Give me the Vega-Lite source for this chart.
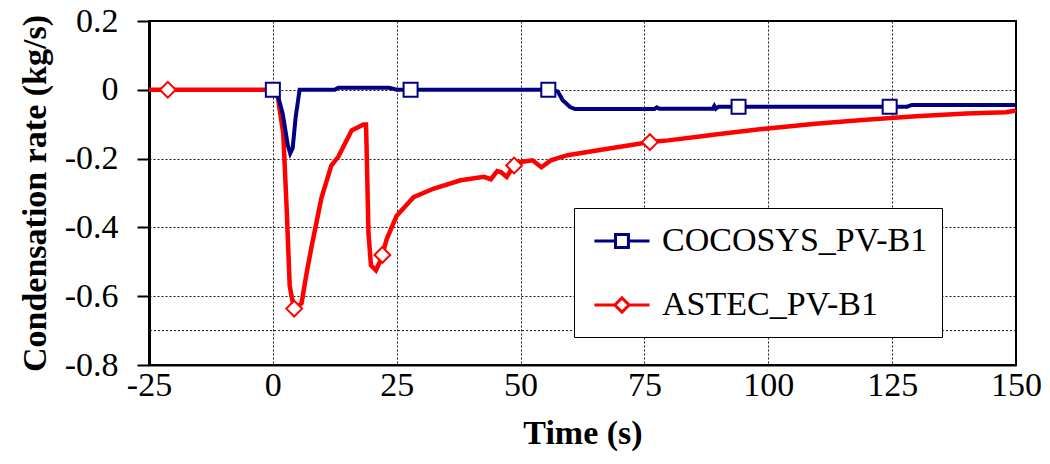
{
  "$schema": "https://vega.github.io/schema/vega-lite/v6.json",
  "width": 867,
  "height": 344,
  "autosize": {"type": "none"},
  "padding": {"left": 149, "top": 21, "right": 34, "bottom": 99},
  "background": "white",
  "config": {
    "font": "Liberation Serif",
    "view": {"stroke": "black", "strokeWidth": 2},
    "axis": {
      "labelFont": "Liberation Serif",
      "labelFontSize": 34,
      "labelColor": "black",
      "titleFont": "Liberation Serif",
      "titleFontSize": 34,
      "titleFontWeight": "bold",
      "titleColor": "black",
      "domainColor": "black",
      "tickColor": "black",
      "gridColor": "black",
      "gridDash": [2, 2],
      "gridWidth": 1,
      "gridOpacity": 0.9
    },
    "legend": {
      "orient": "none",
      "legendX": 425,
      "legendY": 187,
      "title": null,
      "direction": "vertical",
      "fillColor": "white",
      "strokeColor": "black",
      "padding": 14.5,
      "rowPadding": 28,
      "symbolSize": 1156,
      "symbolStrokeWidth": 3,
      "symbolOpacity": 1,
      "labelFont": "Liberation Serif",
      "labelFontSize": 34,
      "labelColor": "black",
      "labelOffset": 36.5,
      "labelLimit": 500,
      "labelBaseline": "middle",
      "labelExpr": "datum.label + '\u00a0\u00a0'"
    }
  },
  "datasets": {
    "astec": [
      {"series": "ASTEC_PV-B1", "t": -25, "v": 0},
      {"series": "ASTEC_PV-B1", "t": 0.8, "v": 0},
      {"series": "ASTEC_PV-B1", "t": 1.4, "v": -0.06},
      {"series": "ASTEC_PV-B1", "t": 2.1, "v": -0.127},
      {"series": "ASTEC_PV-B1", "t": 2.8, "v": -0.35},
      {"series": "ASTEC_PV-B1", "t": 3.4, "v": -0.57},
      {"series": "ASTEC_PV-B1", "t": 4.3, "v": -0.64},
      {"series": "ASTEC_PV-B1", "t": 5.8, "v": -0.62},
      {"series": "ASTEC_PV-B1", "t": 6.8, "v": -0.534},
      {"series": "ASTEC_PV-B1", "t": 7.8, "v": -0.457},
      {"series": "ASTEC_PV-B1", "t": 9.8, "v": -0.315},
      {"series": "ASTEC_PV-B1", "t": 11.8, "v": -0.22},
      {"series": "ASTEC_PV-B1", "t": 13.2, "v": -0.195},
      {"series": "ASTEC_PV-B1", "t": 15.9, "v": -0.118},
      {"series": "ASTEC_PV-B1", "t": 18.3, "v": -0.101},
      {"series": "ASTEC_PV-B1", "t": 18.8, "v": -0.101},
      {"series": "ASTEC_PV-B1", "t": 18.9, "v": -0.157},
      {"series": "ASTEC_PV-B1", "t": 19.3, "v": -0.417},
      {"series": "ASTEC_PV-B1", "t": 19.8, "v": -0.51},
      {"series": "ASTEC_PV-B1", "t": 20.8, "v": -0.525},
      {"series": "ASTEC_PV-B1", "t": 21.6, "v": -0.5},
      {"series": "ASTEC_PV-B1", "t": 22.1, "v": -0.48},
      {"series": "ASTEC_PV-B1", "t": 23, "v": -0.433},
      {"series": "ASTEC_PV-B1", "t": 25, "v": -0.366},
      {"series": "ASTEC_PV-B1", "t": 28.4, "v": -0.312},
      {"series": "ASTEC_PV-B1", "t": 32.5, "v": -0.287},
      {"series": "ASTEC_PV-B1", "t": 37.9, "v": -0.263},
      {"series": "ASTEC_PV-B1", "t": 42.6, "v": -0.253},
      {"series": "ASTEC_PV-B1", "t": 44, "v": -0.26},
      {"series": "ASTEC_PV-B1", "t": 45.3, "v": -0.236},
      {"series": "ASTEC_PV-B1", "t": 46, "v": -0.239},
      {"series": "ASTEC_PV-B1", "t": 47.2, "v": -0.253},
      {"series": "ASTEC_PV-B1", "t": 48.7, "v": -0.22},
      {"series": "ASTEC_PV-B1", "t": 50, "v": -0.21},
      {"series": "ASTEC_PV-B1", "t": 52.4, "v": -0.205},
      {"series": "ASTEC_PV-B1", "t": 54.2, "v": -0.225},
      {"series": "ASTEC_PV-B1", "t": 56.1, "v": -0.205},
      {"series": "ASTEC_PV-B1", "t": 59.5, "v": -0.19},
      {"series": "ASTEC_PV-B1", "t": 66.3, "v": -0.174},
      {"series": "ASTEC_PV-B1", "t": 73, "v": -0.159},
      {"series": "ASTEC_PV-B1", "t": 76.1, "v": -0.152},
      {"series": "ASTEC_PV-B1", "t": 79.8, "v": -0.147},
      {"series": "ASTEC_PV-B1", "t": 86.6, "v": -0.135},
      {"series": "ASTEC_PV-B1", "t": 89.3, "v": -0.13},
      {"series": "ASTEC_PV-B1", "t": 99.4, "v": -0.113},
      {"series": "ASTEC_PV-B1", "t": 109.5, "v": -0.099},
      {"series": "ASTEC_PV-B1", "t": 119.7, "v": -0.087},
      {"series": "ASTEC_PV-B1", "t": 129.8, "v": -0.077},
      {"series": "ASTEC_PV-B1", "t": 140, "v": -0.069},
      {"series": "ASTEC_PV-B1", "t": 148, "v": -0.065},
      {"series": "ASTEC_PV-B1", "t": 150, "v": -0.06}
    ],
    "astecMarkers": [
      {"series": "ASTEC_PV-B1", "t": -21.2, "v": 0},
      {"series": "ASTEC_PV-B1", "t": 4.3, "v": -0.636},
      {"series": "ASTEC_PV-B1", "t": 22.1, "v": -0.48},
      {"series": "ASTEC_PV-B1", "t": 48.7, "v": -0.22},
      {"series": "ASTEC_PV-B1", "t": 76.1, "v": -0.152}
    ],
    "cocosys": [
      {"series": "COCOSYS_PV-B1", "t": 0, "v": 0},
      {"series": "COCOSYS_PV-B1", "t": 0.7, "v": 0},
      {"series": "COCOSYS_PV-B1", "t": 2.0, "v": -0.07},
      {"series": "COCOSYS_PV-B1", "t": 3.0, "v": -0.16},
      {"series": "COCOSYS_PV-B1", "t": 3.5, "v": -0.185},
      {"series": "COCOSYS_PV-B1", "t": 4.0, "v": -0.17},
      {"series": "COCOSYS_PV-B1", "t": 4.6, "v": -0.08},
      {"series": "COCOSYS_PV-B1", "t": 5.4, "v": 0},
      {"series": "COCOSYS_PV-B1", "t": 12.5, "v": 0},
      {"series": "COCOSYS_PV-B1", "t": 13.2, "v": 0.006},
      {"series": "COCOSYS_PV-B1", "t": 23.5, "v": 0.006},
      {"series": "COCOSYS_PV-B1", "t": 25, "v": 0},
      {"series": "COCOSYS_PV-B1", "t": 56, "v": 0},
      {"series": "COCOSYS_PV-B1", "t": 57.5, "v": -0.005},
      {"series": "COCOSYS_PV-B1", "t": 58.5, "v": -0.03},
      {"series": "COCOSYS_PV-B1", "t": 60, "v": -0.05},
      {"series": "COCOSYS_PV-B1", "t": 61, "v": -0.056},
      {"series": "COCOSYS_PV-B1", "t": 77, "v": -0.056},
      {"series": "COCOSYS_PV-B1", "t": 77.5, "v": -0.051},
      {"series": "COCOSYS_PV-B1", "t": 78, "v": -0.055},
      {"series": "COCOSYS_PV-B1", "t": 88.8, "v": -0.055},
      {"series": "COCOSYS_PV-B1", "t": 89.1, "v": -0.047},
      {"series": "COCOSYS_PV-B1", "t": 89.4, "v": -0.055},
      {"series": "COCOSYS_PV-B1", "t": 90, "v": -0.049},
      {"series": "COCOSYS_PV-B1", "t": 128, "v": -0.049},
      {"series": "COCOSYS_PV-B1", "t": 129, "v": -0.044},
      {"series": "COCOSYS_PV-B1", "t": 150, "v": -0.044}
    ],
    "cocosysMarkers": [
      {"series": "COCOSYS_PV-B1", "t": 0, "v": 0},
      {"series": "COCOSYS_PV-B1", "t": 27.8, "v": 0},
      {"series": "COCOSYS_PV-B1", "t": 55.6, "v": 0},
      {"series": "COCOSYS_PV-B1", "t": 94, "v": -0.049},
      {"series": "COCOSYS_PV-B1", "t": 124.5, "v": -0.049}
    ],
    "legendRows": [
      {"series": "COCOSYS_PV-B1", "t": 0, "v": 0},
      {"series": "ASTEC_PV-B1", "t": 0, "v": 0}
    ],
    "extraGrid": [{"v": -0.7}]
  },
  "layer": [
    {
      "data": {"name": "extraGrid"},
      "mark": {"type": "rule", "color": "black", "strokeDash": [2, 2], "strokeWidth": 1, "opacity": 0.9},
      "encoding": {
        "y": {"field": "v", "type": "quantitative", "scale": {"domain": [-0.8, 0.2], "nice": false, "zero": false}}
      }
    },
    {
      "data": {"name": "astec"},
      "mark": {"type": "line", "strokeWidth": 4.5},
      "encoding": {
        "x": {
          "field": "t",
          "type": "quantitative",
          "scale": {"domain": [-25, 150], "nice": false, "zero": false},
          "axis": {
            "title": "Time (s)",
            "values": [-25, 0, 25, 50, 75, 100, 125, 150],
            "labelExpr": "replace(format(datum.value, 'd'), '\u2212', '-')",
            "ticks": false,
            "domainWidth": 2,
            "labelPadding": 3,
            "titlePadding": 14,
            "labelFlush": false,
            "labelOverlap": false
          }
        },
        "y": {
          "field": "v",
          "type": "quantitative",
          "scale": {"domain": [-0.8, 0.2], "nice": false, "zero": false},
          "axis": {
            "title": "Condensation rate (kg/s)",
            "values": [-0.8, -0.6, -0.4, -0.2, 0, 0.2],
            "labelExpr": "replace(format(datum.value, '.1~f'), '\u2212', '-')",
            "tickSize": 12,
            "tickWidth": 2,
            "domainWidth": 3,
            "labelPadding": 19,
            "titlePadding": 12,
            "labelFlush": false,
            "labelOverlap": false
          }
        },
        "color": {"field": "series", "type": "nominal", "scale": {"domain": ["COCOSYS_PV-B1", "ASTEC_PV-B1"], "range": ["#000080", "#ff0000"]}}
      }
    },
    {
      "data": {"name": "astecMarkers"},
      "mark": {"type": "point", "shape": "diamond", "size": 250, "fill": "white", "filled": false, "fillOpacity": 1, "opacity": 1, "strokeWidth": 2},
      "encoding": {
        "x": {"field": "t", "type": "quantitative"},
        "y": {"field": "v", "type": "quantitative"},
        "color": {"field": "series", "type": "nominal"}
      }
    },
    {
      "data": {"name": "cocosys"},
      "mark": {"type": "line", "strokeWidth": 4},
      "encoding": {
        "x": {"field": "t", "type": "quantitative"},
        "y": {"field": "v", "type": "quantitative"},
        "color": {"field": "series", "type": "nominal"}
      }
    },
    {
      "data": {"name": "cocosysMarkers"},
      "mark": {"type": "point", "shape": "square", "size": 196, "fill": "white", "filled": false, "fillOpacity": 1, "opacity": 1, "strokeWidth": 2},
      "encoding": {
        "x": {"field": "t", "type": "quantitative"},
        "y": {"field": "v", "type": "quantitative"},
        "color": {"field": "series", "type": "nominal"}
      }
    },
    {
      "data": {"name": "legendRows"},
      "mark": {"type": "point", "size": 0, "filled": false, "strokeWidth": 0},
      "encoding": {
        "x": {"field": "t", "type": "quantitative"},
        "y": {"field": "v", "type": "quantitative"},
        "color": {"field": "series", "type": "nominal"},
        "shape": {
          "field": "series",
          "type": "nominal",
          "scale": {"domain": ["COCOSYS_PV-B1", "ASTEC_PV-B1"], "range": ["M-0.74,0H0.5M1.26,0H2.5M0.5,-0.38H1.26V0.38H0.5Z", "M-0.74,0H0.46M1.3,0H2.5M0.46,0L0.88,-0.42L1.3,0L0.88,0.42Z"]}
        }
      }
    }
  ]
}
